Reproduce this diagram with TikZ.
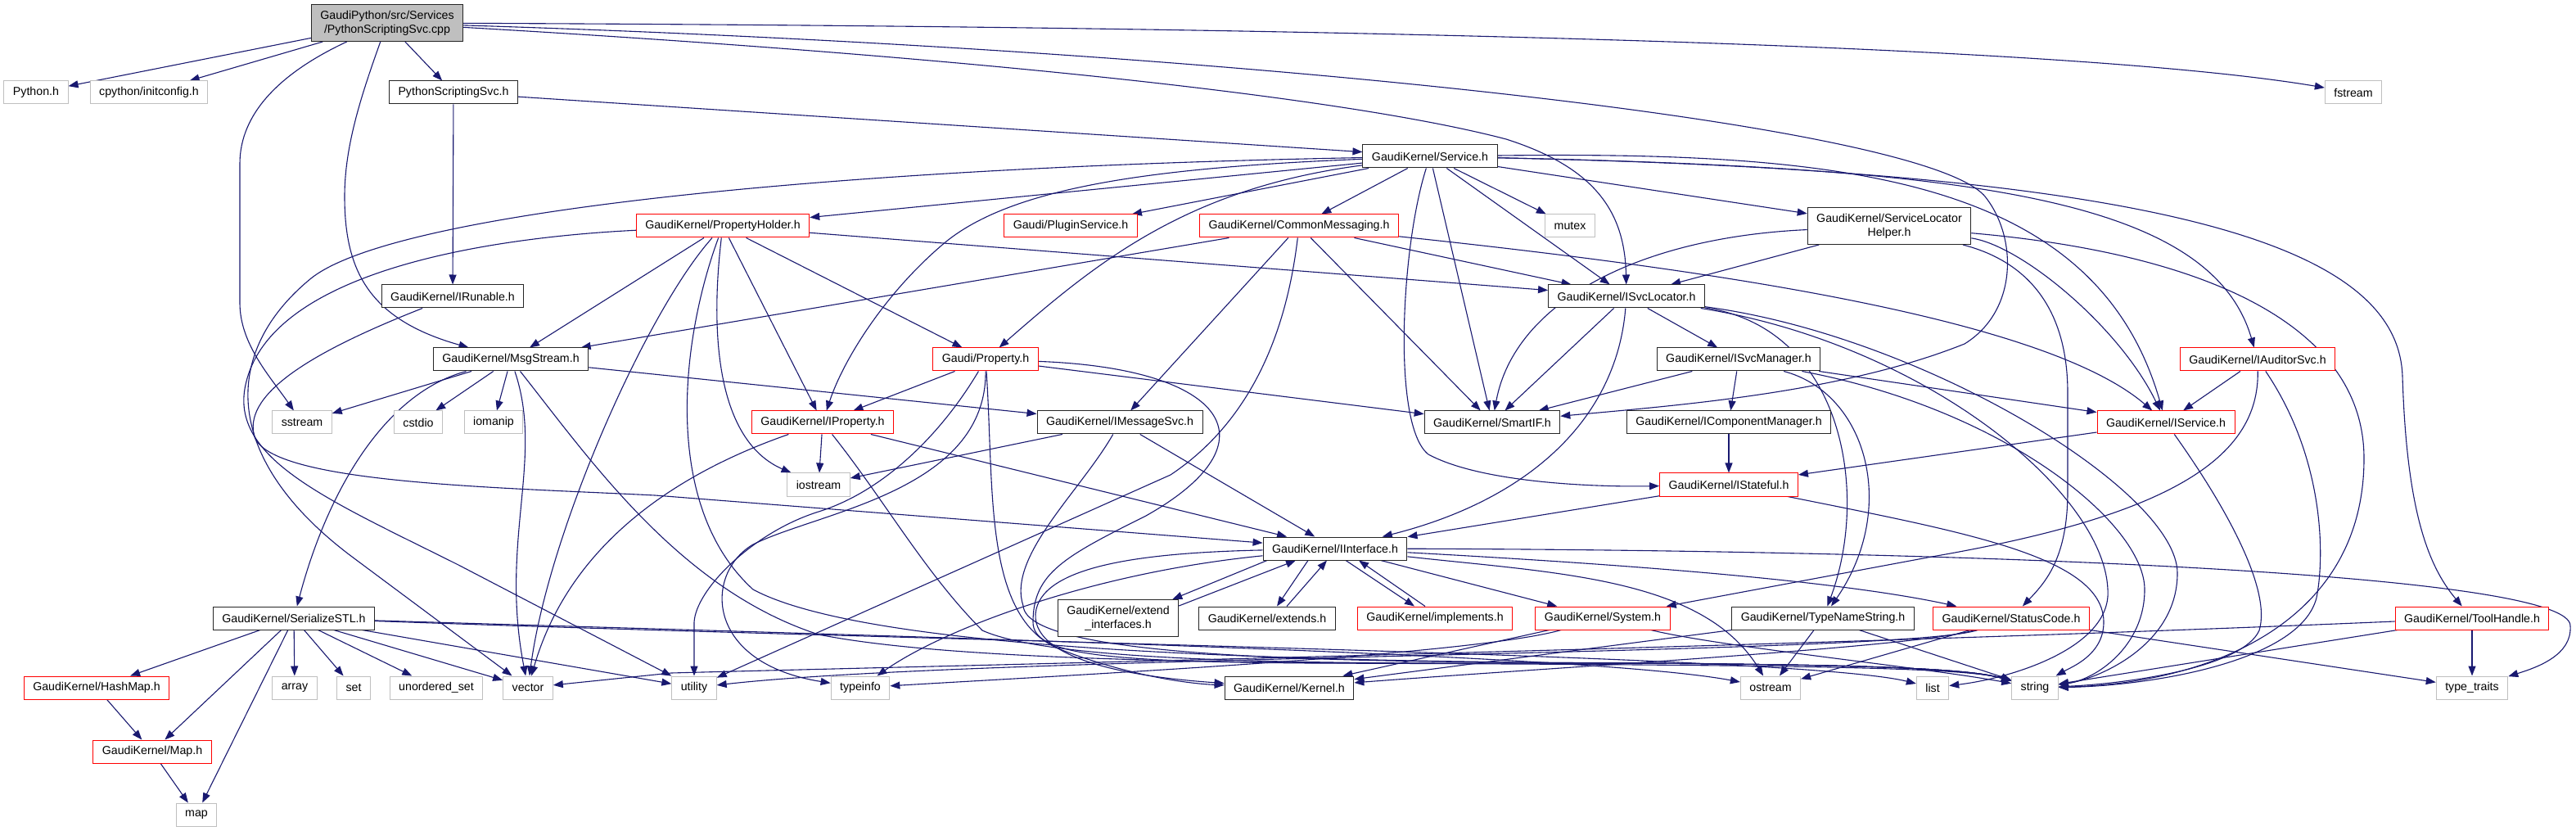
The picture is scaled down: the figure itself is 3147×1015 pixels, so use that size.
\documentclass[tikz,border=0pt]{standalone}
\usepackage{fontspec}
\setmainfont{Liberation Sans}
\usetikzlibrary{arrows.meta,calc}
\pgfdeclarelayer{bg}
\pgfsetlayers{bg,main}
\definecolor{edgec}{HTML}{191970}
\definecolor{sysc}{HTML}{BFBFBF}
\definecolor{rootf}{HTML}{BFBFBF}
\definecolor{truncc}{HTML}{FF0000}
\definecolor{hdrc}{HTML}{262626}
\begin{document}
\begin{tikzpicture}[x=0.5pt,y=-0.5pt,
  box/.style={font=\fontsize{7.1}{8.5}\selectfont, inner xsep=5.5pt, inner ysep=0pt,
    minimum height=14pt, line width=0.5pt, fill=white},
  hdr/.style={box, draw=hdrc},
  trunc/.style={box, draw=truncc},
  sysh/.style={box, draw=sysc},
  twoline/.style={align=center, minimum height=22.5pt},
  dep/.style={draw=edgec, line width=0.55pt, -{Triangle[length=6pt,width=4.5pt]}}]
\useasboundingbox (0,0) rectangle (3147,1015);

% ---------- nodes ----------
\node[box, draw=hdrc, fill=rootf, twoline] (root) at (473,28) {GaudiPython/src/Services\\/PythonScriptingSvc.cpp};
\node[sysh] (pyh) at (44,113) {Python.h};
\node[sysh] (cpy) at (182,113) {cpython/initconfig.h};
\node[hdr] (psvch) at (554,113) {PythonScriptingSvc.h};
\node[sysh] (fstream) at (2875,113) {fstream};
\node[hdr] (service) at (1747,191) {GaudiKernel/Service.h};
\node[trunc] (propholder) at (883,276) {GaudiKernel/PropertyHolder.h};
\node[trunc] (plugin) at (1308,276) {Gaudi/PluginService.h};
\node[trunc] (commsg) at (1587,276) {GaudiKernel/CommonMessaging.h};
\node[sysh] (mutex) at (1918,276) {mutex};
\node[hdr, twoline] (slh) at (2308,276) {GaudiKernel/ServiceLocator\\Helper.h};
\node[hdr] (irunable) at (553,362) {GaudiKernel/IRunable.h};
\node[hdr] (isvcloc) at (1987,362) {GaudiKernel/ISvcLocator.h};
\node[hdr] (msgstream) at (624,439) {GaudiKernel/MsgStream.h};
\node[trunc] (property) at (1204,439) {Gaudi/Property.h};
\node[hdr] (isvcman) at (2124,439) {GaudiKernel/ISvcManager.h};
\node[trunc] (iauditor) at (2758,439) {GaudiKernel/IAuditorSvc.h};
\node[sysh] (sstream) at (369,516) {sstream};
\node[sysh] (cstdio) at (511,516) {cstdio};
\node[sysh] (iomanip) at (603,516) {iomanip};
\node[trunc] (iproperty) at (1005,516) {GaudiKernel/IProperty.h};
\node[hdr] (imsgsvc) at (1368,516) {GaudiKernel/IMessageSvc.h};
\node[hdr] (smartif) at (1823,516) {GaudiKernel/SmartIF.h};
\node[hdr] (icompman) at (2112,516) {GaudiKernel/IComponentManager.h};
\node[trunc] (iservice) at (2646,516) {GaudiKernel/IService.h};
\node[sysh] (iostream) at (1000,592) {iostream};
\node[trunc] (istateful) at (2112,592) {GaudiKernel/IStateful.h};
\node[hdr] (iinterface) at (1631,670) {GaudiKernel/IInterface.h};
\node[hdr] (serialize) at (359,755) {GaudiKernel/SerializeSTL.h};
\node[hdr, twoline] (extint) at (1366,755) {GaudiKernel/extend\\\_interfaces.h};
\node[hdr] (extends) at (1548,755) {GaudiKernel/extends.h};
\node[trunc] (implements) at (1753,755) {GaudiKernel/implements.h};
\node[trunc] (system) at (1958,755) {GaudiKernel/System.h};
\node[hdr] (typename) at (2227,755) {GaudiKernel/TypeNameString.h};
\node[trunc] (statuscode) at (2457,755) {GaudiKernel/StatusCode.h};
\node[trunc] (toolhandle) at (3020,755) {GaudiKernel/ToolHandle.h};
\node[trunc] (hashmap) at (118,840) {GaudiKernel/HashMap.h};
\node[sysh] (array) at (360,840) {array};
\node[sysh] (set) at (432,840) {set};
\node[sysh] (unordset) at (533,840) {unordered\_set};
\node[sysh] (vector) at (645,840) {vector};
\node[sysh] (utility) at (848,840) {utility};
\node[sysh] (typeinfo) at (1051,840) {typeinfo};
\node[hdr] (kernel) at (1575,840) {GaudiKernel/Kernel.h};
\node[sysh] (ostream) at (2163,840) {ostream};
\node[sysh] (list) at (2361,840) {list};
\node[sysh] (string) at (2486,840) {string};
\node[sysh] (typetraits) at (3020,840) {type\_traits};
\node[trunc] (maph) at (186,918) {GaudiKernel/Map.h};
\node[sysh] (map) at (240,995) {map};

% ---------- edges ----------
\begin{pgfonlayer}{bg}
\fill[white] (0,0) rectangle (3147,1015);
% root
\draw[dep] (root) -- (pyh);
\draw[dep] (root) -- (cpy);
\draw[dep] (root) -- (psvch);
\draw[dep] (root) .. controls (340,90) and (293,140) .. (293,200) -- (293,370) .. controls (293,420) and (330,460) .. (sstream);
\draw[dep] (root) .. controls (440,120) and (421,180) .. (421,240) .. controls (421,330) and (450,390) .. (msgstream);
\draw[dep] (root) .. controls (1500,32) and (2500,50) .. (fstream);
\draw[dep] (root) .. controls (1200,70) and (1650,120) .. (1840,170) .. controls (1950,205) and (1985,260) .. (isvcloc);
\draw[dep] (root) .. controls (1500,60) and (2350,150) .. (2425,240) .. controls (2465,290) and (2465,380) .. (2400,420) .. controls (2250,480) and (2050,495) .. (smartif);
% PythonScriptingSvc.h / IRunable
\draw[dep] (psvch) -- (service);
\draw[dep] (psvch) -- (irunable);
\draw[dep] (irunable) .. controls (380,430) and (300,480) .. (310,530) .. controls (320,590) and (600,595) .. (800,605) -- (iinterface);
% Service.h
\draw[dep] (service) -- (propholder);
\draw[dep] (service) -- (plugin);
\draw[dep] (service) -- (commsg);
\draw[dep] (service) -- (mutex);
\draw[dep] (service) -- (slh);
\draw[dep] (service) -- (isvcloc);
\draw[dep] (service) -- (smartif);
\draw[dep] (service) .. controls (1712,300) and (1700,520) .. (1745,555) .. controls (1810,590) and (1950,595) .. (istateful);
\draw[dep] (service) .. controls (1400,205) and (1230,230) .. (1150,300) .. controls (1080,360) and (1030,440) .. (iproperty);
\draw[dep] (service) .. controls (1450,230) and (1340,320) .. (property);
\draw[dep] (service) .. controls (1000,205) and (480,260) .. (380,340) .. controls (270,430) and (270,560) .. (430,680) -- (vector);
\draw[dep] (service) .. controls (2250,185) and (2560,215) .. (iservice);
\draw[dep] (service) .. controls (2400,205) and (2700,240) .. (iauditor);
\draw[dep] (service) .. controls (2650,210) and (2930,300) .. (2935,460) .. controls (2940,620) and (2965,690) .. (toolhandle);
% CommonMessaging.h
\draw[dep] (commsg) -- (msgstream);
\draw[dep] (commsg) -- (isvcloc);
\draw[dep] (commsg) -- (smartif);
\draw[dep] (commsg) -- (imsgsvc);
\draw[dep] (commsg) .. controls (2100,330) and (2500,390) .. (iservice);
\draw[dep] (commsg) .. controls (1570,420) and (1520,520) .. (1430,580) -- (utility);
% PropertyHolder.h
\draw[dep] (propholder) -- (msgstream);
\draw[dep] (propholder) -- (isvcloc);
\draw[dep] (propholder) -- (iproperty);
\draw[dep] (propholder) -- (property);
\draw[dep] (propholder) .. controls (866,420) and (880,540) .. (iostream);
\draw[dep] (propholder) .. controls (790,380) and (670,650) .. (vector);
\draw[dep] (propholder) .. controls (600,290) and (330,330) .. (300,470) .. controls (280,560) and (400,610) .. (560,690) -- (utility);
\draw[dep] (propholder) .. controls (830,420) and (810,620) .. (920,720) .. controls (1050,790) and (1500,808) .. (2000,810) .. controls (2250,812) and (2400,815) .. (string);
% Gaudi/Property.h
\draw[dep] (property) -- (iproperty);
\draw[dep] (property) -- (smartif);
\draw[dep] (property) .. controls (1150,530) and (1080,600) .. (1000,625) .. controls (920,650) and (850,720) .. (848,760) -- (utility);
\draw[dep] (property) .. controls (1205,600) and (1000,625) .. (920,665) .. controls (860,700) and (860,810) .. (typeinfo);
\draw[dep] (property) .. controls (1215,600) and (1200,760) .. (1300,795) .. controls (1380,825) and (1450,835) .. (kernel);
\draw[dep] (property) .. controls (1500,450) and (1560,540) .. (1400,630) .. controls (1300,680) and (1262,700) .. (1262,760) .. controls (1262,800) and (1350,808) .. (1600,810) .. controls (2200,812) and (2400,815) .. (string);
% IProperty.h
\draw[dep] (iproperty) -- (iostream);
\draw[dep] (iproperty) -- (iinterface);
\draw[dep] (iproperty) .. controls (850,570) and (700,650) .. (vector);
\draw[dep] (iproperty) .. controls (1080,610) and (1130,700) .. (1200,770) .. controls (1300,815) and (1700,810) .. (2000,810) .. controls (2250,812) and (2400,815) .. (string);
% IMessageSvc.h
\draw[dep] (imsgsvc) -- (iostream);
\draw[dep] (imsgsvc) -- (iinterface);
\draw[dep] (imsgsvc) .. controls (1320,600) and (1230,680) .. (1250,740) .. controls (1255,810) and (1700,808) .. (2000,810) .. controls (2250,812) and (2400,815) .. (string);
% MsgStream.h
\draw[dep] (msgstream) -- (sstream);
\draw[dep] (msgstream) -- (cstdio);
\draw[dep] (msgstream) -- (iomanip);
\draw[dep] (msgstream) -- (imsgsvc);
\draw[dep] (msgstream) .. controls (470,480) and (400,600) .. (serialize);
\draw[dep] (msgstream) .. controls (665,560) and (610,660) .. (vector);
\draw[dep] (msgstream) .. controls (720,560) and (830,720) .. (1000,775) .. controls (1200,815) and (1700,810) .. (2000,810) .. controls (2250,812) and (2400,815) .. (string);
% SerializeSTL.h
\draw[dep] (serialize) -- (hashmap);
\draw[dep] (serialize) -- (maph);
\draw[dep] (serialize) -- (map);
\draw[dep] (serialize) -- (array);
\draw[dep] (serialize) -- (set);
\draw[dep] (serialize) -- (unordset);
\draw[dep] (serialize) -- (vector);
\draw[dep] (serialize) -- (utility);
\draw[dep] (serialize) .. controls (1200,785) and (2200,800) .. (list);
\draw[dep] (serialize) .. controls (1200,780) and (1950,800) .. (ostream);
\draw[dep] (hashmap) -- (maph);
\draw[dep] (maph) -- (map);
% ISvcLocator.h
\draw[dep] (isvcloc) -- (isvcman);
\draw[dep] (isvcloc) -- (smartif);
\draw[dep] (isvcloc) .. controls (1975,510) and (1870,610) .. (iinterface);
\draw[dep] (isvcloc) .. controls (2250,400) and (2285,600) .. (typename);
\draw[dep] (isvcloc) .. controls (2350,420) and (2570,600) .. (2575,720) .. controls (2580,790) and (2460,828) .. (list);
\draw[dep] (isvcloc) .. controls (2350,410) and (2660,600) .. (2660,700) .. controls (2660,790) and (2560,830) .. (string);
% ISvcManager.h
\draw[dep] (isvcman) -- (smartif);
\draw[dep] (isvcman) -- (icompman);
\draw[dep] (isvcman) -- (iservice);
\draw[dep] (isvcman) .. controls (2280,480) and (2320,620) .. (typename);
\draw[dep] (isvcman) .. controls (2450,500) and (2620,640) .. (2620,720) .. controls (2620,790) and (2560,830) .. (string);
% IComponentManager / IStateful / IService / IAuditorSvc
\draw[dep] (icompman) -- (istateful);
\draw[dep] (istateful) -- (iinterface);
\draw[dep] (istateful) .. controls (2400,650) and (2570,680) .. (2570,760) .. controls (2570,800) and (2530,815) .. (string);
\draw[dep] (iservice) -- (istateful);
\draw[dep] (iservice) .. controls (2720,620) and (2775,720) .. (2760,770) .. controls (2740,815) and (2600,835) .. (string);
\draw[dep] (iauditor) -- (iservice);
\draw[dep] (iauditor) .. controls (2760,560) and (2650,630) .. (2360,680) -- (system);
\draw[dep] (iauditor) .. controls (2840,560) and (2840,680) .. (2830,730) .. controls (2810,810) and (2620,838) .. (string);
% ServiceLocatorHelper.h
\draw[dep] (slh) -- (isvcloc);
\draw[dep] (slh) .. controls (2000,290) and (1850,370) .. (smartif);
\draw[dep] (slh) .. controls (2470,300) and (2590,400) .. (iservice);
\draw[dep] (slh) .. controls (2480,320) and (2526,380) .. (2526,480) -- (2526,600) .. controls (2526,680) and (2500,710) .. (statuscode);
\draw[dep] (slh) .. controls (2700,310) and (2888,400) .. (2888,560) .. controls (2888,760) and (2700,835) .. (string);
% ToolHandle.h
\draw[dep] (toolhandle) -- (typetraits);
\draw[dep] (toolhandle) -- (string);
\draw[dep] (toolhandle) .. controls (2200,790) and (1200,812) .. (820,822) -- (vector);
% TypeNameString.h
\draw[dep] (typename) -- (ostream);
\draw[dep] (typename) -- (string);
\draw[dep] (typename) -- (kernel);
% System.h
\draw[dep] (system) -- (kernel);
\draw[dep] (system) .. controls (1800,800) and (1300,825) .. (typeinfo);
\draw[dep] (system) .. controls (2100,790) and (2350,815) .. (string);
% StatusCode.h
\draw[dep] (statuscode) -- (ostream);
\draw[dep] (statuscode) -- (typetraits);
\draw[dep] (statuscode) .. controls (2350,790) and (1900,815) .. (kernel);
\draw[dep] (statuscode) .. controls (2330,800) and (1200,800) .. (utility);
% IInterface.h
\draw[dep] ($(iinterface.south)+(-83,0)$) -- ($(extint.north east)+(-8,0)$);
\draw[dep] ($(extint.north east)+(0,8)$) -- ($(iinterface.south)+(-48,0)$);
\draw[dep] ($(iinterface.south)+(-33,0)$) -- ($(extends.north)+(12,0)$);
\draw[dep] ($(extends.north)+(24,0)$) -- ($(iinterface.south)+(-10,0)$);
\draw[dep] ($(iinterface.south)+(13,0)$) -- ($(implements.north)+(-25,0)$);
\draw[dep] ($(implements.north)+(-12,0)$) -- ($(iinterface.south)+(29,0)$);
\draw[dep] (iinterface) -- (system);
\draw[dep] (iinterface) .. controls (2000,690) and (2250,710) .. (statuscode);
\draw[dep] (iinterface) .. controls (2400,672) and (3145,700) .. (3140,765) .. controls (3142,800) and (3100,815) .. (typetraits);
\draw[dep] (iinterface) .. controls (1900,700) and (2080,705) .. (ostream);
\draw[dep] (iinterface) .. controls (1400,675) and (1270,690) .. (1265,750) .. controls (1262,810) and (1400,828) .. (kernel);
\draw[dep] (iinterface) .. controls (1330,700) and (1150,770) .. (typeinfo);
\end{pgfonlayer}
\end{tikzpicture}
\end{document}
